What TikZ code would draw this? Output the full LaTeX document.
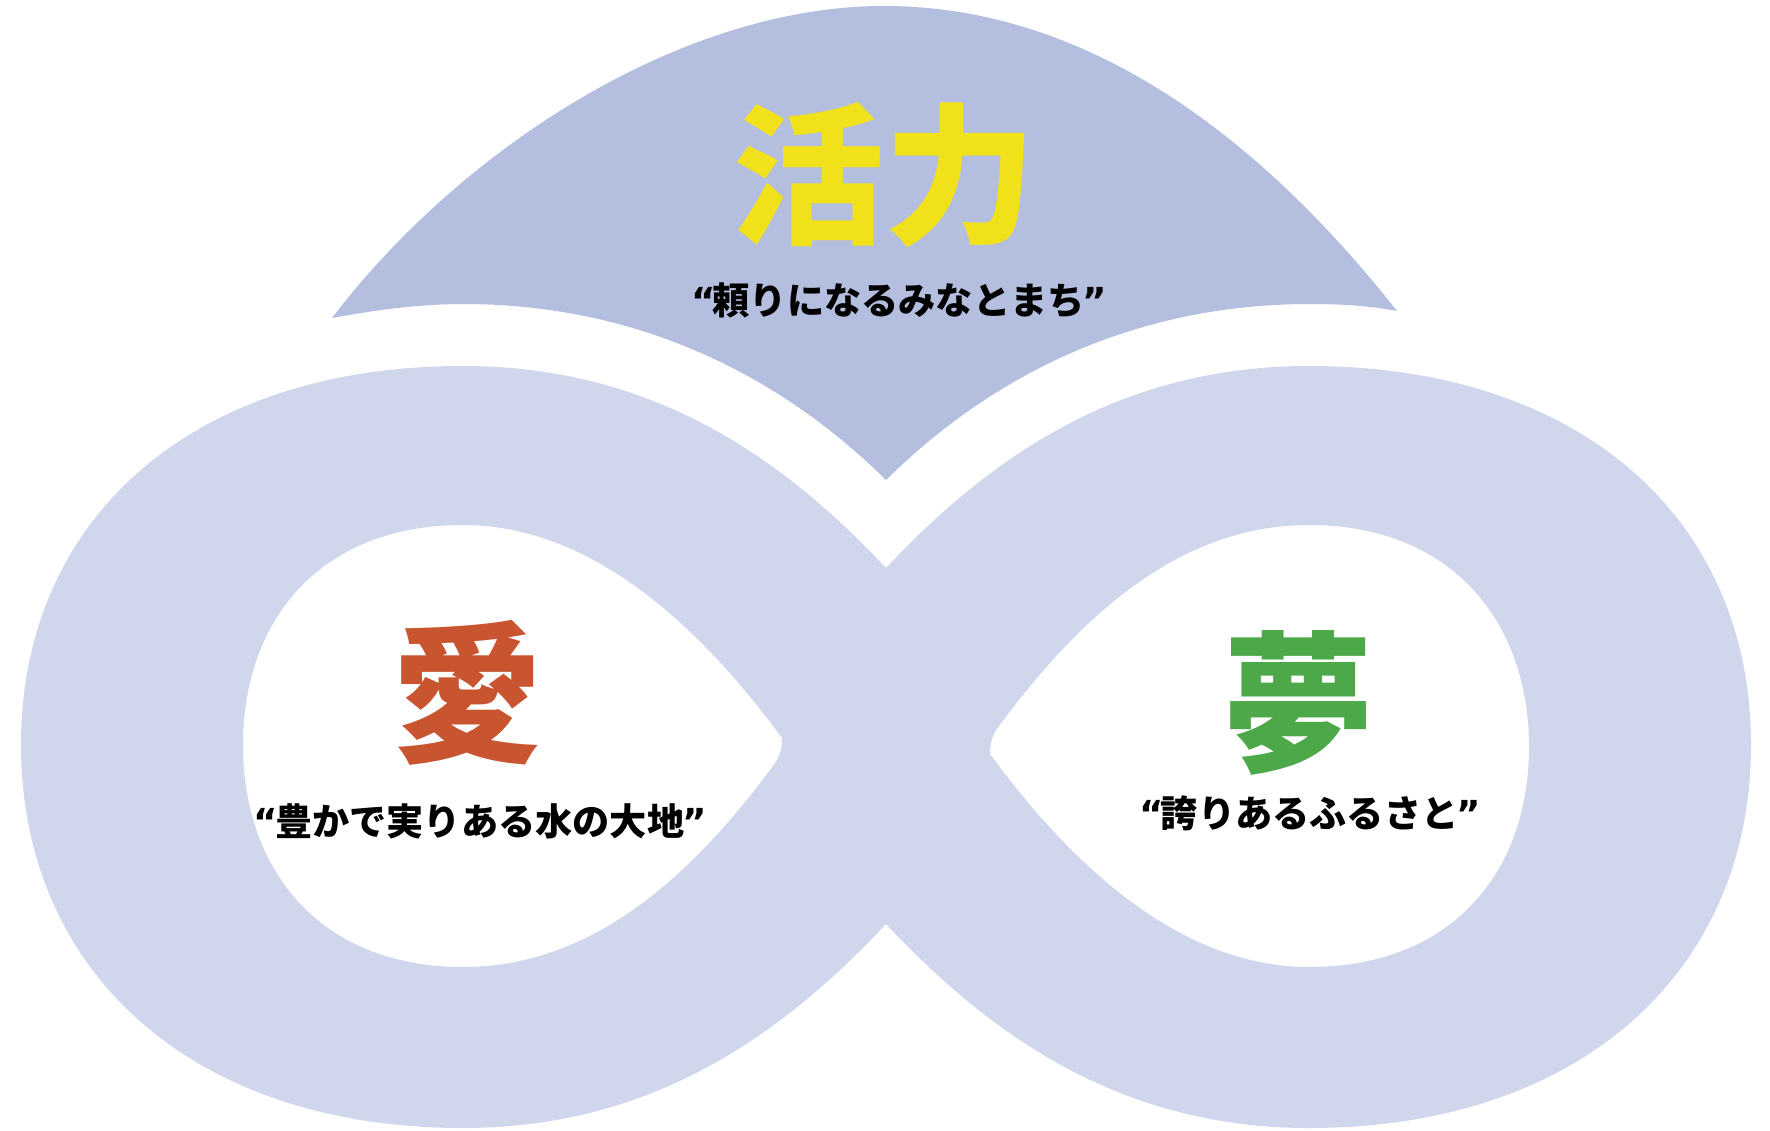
\documentclass[tikz,border=0pt]{standalone}
\usepackage{fontspec}
\newfontfamily\cjk{Noto Sans CJK JP}
\newfontfamily\qfont{DejaVu Sans}
\newcommand{\myLQ}{{\qfont\bfseries “}\kern-0.08em}
\newcommand{\myRQ}{\kern-0.06em{\qfont\bfseries ”}}
\definecolor{topcol}{RGB}{180,191,223}
\definecolor{infcol}{RGB}{208,215,236}
\definecolor{yel}{RGB}{240,225,26}
\definecolor{ora}{RGB}{200,85,47}
\definecolor{grn}{RGB}{76,168,72}
\tikzset{
  bigchar/.style={inner sep=0pt, font=\cjk\bfseries\fontsize{76pt}{76pt}\selectfont},
  subtitle/.style={inner sep=0pt, text=black, font=\cjk\bfseries\fontsize{18.6pt}{18.6pt}\selectfont},
}
\begin{document}
\begin{tikzpicture}[x=0.5pt,y=-0.5pt]
\useasboundingbox (0,0) rectangle (1770,1130);
% top shape
\fill[topcol] (332,318) .. controls (460,150) and (680,6) .. (884,6)
  .. controls (1090,6) and (1262,140) .. (1397,311)
  .. controls (1370,306) and (1345,304) .. (1310,304)
  .. controls (1122,304) and (982,385) .. (886,480)
  .. controls (790,385) and (650,304) .. (463,304)
  .. controls (420,304) and (375,310) .. cycle;
% infinity shape
\fill[infcol, even odd rule]
  (886,568) .. controls (780,455) and (650,366) .. (463,366)
  .. controls (190,366) and (21,520) .. (21,745)
  .. controls (21,970) and (190,1128) .. (463,1128)
  .. controls (650,1128) and (780,1037) .. (886,924)
  .. controls (992,1037) and (1122,1128) .. (1309,1128)
  .. controls (1582,1128) and (1751,970) .. (1751,745)
  .. controls (1751,520) and (1582,366) .. (1309,366)
  .. controls (1122,366) and (992,455) .. cycle
  (782,738) .. controls (710,640) and (600,525) .. (463,525)
  .. controls (320,525) and (243,620) .. (243,745)
  .. controls (243,870) and (320,967) .. (463,967)
  .. controls (600,967) and (700,865) .. (776,762)
  .. controls (780,755) and (782,748) .. cycle
  (990,754) .. controls (1062,852) and (1172,967) .. (1309,967)
  .. controls (1452,967) and (1529,872) .. (1529,747)
  .. controls (1529,622) and (1452,525) .. (1309,525)
  .. controls (1172,525) and (1072,627) .. (996,730)
  .. controls (992,737) and (990,744) .. cycle;
% texts
\node[bigchar, text=yel] (katsuryoku) at (884,175) {活力};
\node[subtitle] (tayori) at (899,300) {\myLQ 頼りになるみなとまち\myRQ};
\node[bigchar, text=ora] (ai) at (467,693) {愛};
\node[subtitle] (yutaka) at (480,821) {\myLQ 豊かで実りある水の大地\myRQ};
\node[bigchar, text=grn] (yume) at (1298,703) {夢};
\node[subtitle] (hokori) at (1310,813) {\myLQ 誇りあるふるさと\myRQ};
\end{tikzpicture}
\end{document}
